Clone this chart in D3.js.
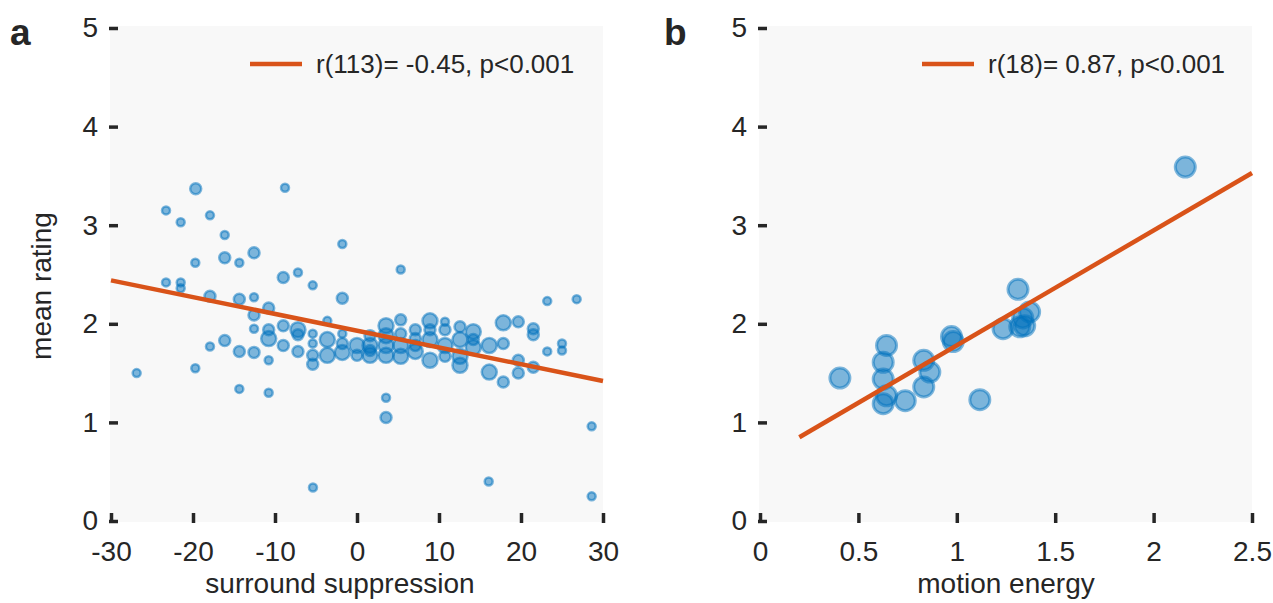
<!DOCTYPE html>
<html>
<head>
<meta charset="utf-8">
<script src="https://cdn.jsdelivr.net/npm/d3@7"></script>
<style>
  body { margin: 0; background: #fff; }
  text { font-family: "Liberation Sans", Arial, Helvetica, sans-serif; fill: #262626; }
</style>
</head>
<body>
<div id="chart"></div>
<script>
// ---- panel a: surround suppression vs mean rating (size = weight class 1..3)
const ssX = [-19.67, -23.29, -17.93, -21.5, -16.13, -12.56, -16.13, -19.72, -14.35, -23.29,
  -21.5, -21.5, -17.93, -14.35, -12.56, -10.77, -12.56, -12.56, -10.77, -10.77,
  -16.13, -17.93, -14.35, -12.56, -10.77, -26.87, -19.72, -14.35, -10.77, -8.78,
  -8.99, -7.2, -5.4, -1.79, 5.33, -1.79, -8.99, -7.2, -7.2, -5.4,
  -3.62, -8.99, -7.2, -5.4, -5.4, -5.4, -3.62, -3.62, -1.79, -1.79,
  0, 1.59, 1.59, 3.54, 3.54, 3.54, 5.33, 5.33, 5.33, 7.11,
  7.11, 8.9, 8.9, 8.9, 10.73, 10.73, 3.54, 3.54, 23.2, 26.79,
  12.56, 12.56, 14.18, 14.18, 17.84, 19.67, 21.5, 21.5, 16.13, 17.84,
  23.2, 25, 25, 12.56, 12.56, 10.73, 16.13, 17.84, 19.67, 19.67,
  21.5, 28.62, 16.06, 28.62, -5.37, 0, 1.59, 7.11, 5.33, 14.18,
  -1.79, 8.9, 3.54, 10.73, 1.59, 7.11];
const ssY = [3.37, 3.15, 3.10, 3.03, 2.90, 2.72, 2.67, 2.62, 2.62, 2.42,
  2.42, 2.36, 2.28, 2.25, 2.27, 2.16, 2.09, 1.95, 1.94, 1.85,
  1.83, 1.77, 1.72, 1.71, 1.63, 1.50, 1.55, 1.34, 1.30, 3.38,
  2.47, 2.52, 2.39, 2.81, 2.55, 2.26, 1.98, 1.94, 1.89, 1.90,
  2.03, 1.78, 1.72, 1.80, 1.68, 1.59, 1.84, 1.68, 1.80, 1.71,
  1.78, 1.78, 1.68, 1.98, 1.78, 1.68, 2.04, 1.78, 1.67, 1.85,
  1.72, 2.03, 1.84, 1.63, 1.94, 1.78, 1.25, 1.05, 2.23, 2.25,
  1.97, 1.84, 1.92, 1.76, 2.01, 2.02, 1.95, 1.89, 1.78, 1.80,
  1.72, 1.80, 1.73, 1.67, 1.58, 1.67, 1.51, 1.41, 1.63, 1.50,
  1.56, 0.96, 0.40, 0.25, 0.34, 1.68, 1.88, 1.94, 1.90, 1.84,
  1.90, 1.94, 1.88, 2.02, 1.73, 1.78];
const ssSize = [2, 1, 1, 1, 1, 2, 2, 1, 1, 1,
  1, 1, 2, 2, 1, 2, 2, 1, 2, 3,
  2, 1, 2, 2, 1, 1, 1, 1, 1, 1,
  2, 1, 1, 1, 1, 2, 2, 3, 2, 1,
  1, 2, 2, 1, 2, 2, 3, 3, 2, 3,
  3, 3, 3, 3, 3, 3, 2, 3, 3, 2,
  3, 3, 3, 3, 2, 3, 1, 2, 1, 1,
  2, 3, 3, 3, 3, 2, 2, 2, 3, 2,
  1, 1, 1, 3, 3, 2, 3, 2, 2, 2,
  2, 1, 1, 1, 1, 2, 2, 2, 2, 2,
  1, 2, 3, 1, 2, 2];
const fitASlope = -0.017, fitAIntercept = 1.93;

// ---- panel b: motion energy vs mean rating
const meX = [2.161, 1.311, 1.335, 1.37, 1.32, 1.345, 1.235, 0.973, 0.982, 0.643,
  0.626, 0.832, 0.863, 0.406, 0.626, 0.832, 0.643, 0.626, 0.738, 1.117];
const meY = [3.59, 2.35, 2.06, 2.12, 1.97, 1.98, 1.95, 1.87, 1.82, 1.78,
  1.61, 1.63, 1.51, 1.45, 1.44, 1.36, 1.27, 1.19, 1.22, 1.23];
const fitBSlope = 1.165, fitBIntercept = 0.617, fitBStart = 0.2;

// ---- ticks / labels
const yTicks = [0, 1, 2, 3, 4, 5];
const xTicksA = [-30, -20, -10, 0, 10, 20, 30];
const xTicksB = [0, 0.5, 1, 1.5, 2, 2.5];
const legendA = "r(113)= -0.45, p<0.001";
const legendB = "r(18)= 0.87, p<0.001";

const blue = "#0072BD";
const orange = "#D95319";

const svg = d3.select("#chart")
  .append("svg")
  .attr("width", 1273)
  .attr("height", 603);

function drawPanel(cfg) {
  const x = d3.scaleLinear().domain(cfg.xDomain).range(cfg.xRange);
  const y = d3.scaleLinear().domain([0, 5]).range([521, 28]);
  const g = svg.append("g");

  // light axes background
  g.append("rect")
    .attr("x", x(cfg.xDomain[0]) - 1)
    .attr("y", y(5) - 2)
    .attr("width", x(cfg.xDomain[1]) - x(cfg.xDomain[0]) + 1)
    .attr("height", y(0) - y(5) + 3)
    .attr("fill", "#f8f8f8");

  // inward ticks, no axis line; plain hyphen minus like the original
  const fmt = d => String(d);
  const yAxis = g.append("g")
    .attr("transform", `translate(${x(cfg.xDomain[0]) - 2},0)`)
    .call(d3.axisLeft(y).tickValues(yTicks).tickFormat(fmt).tickSize(-9).tickPadding(11));
  const xAxis = g.append("g")
    .attr("transform", `translate(0,${y(0) + 2})`)
    .call(d3.axisBottom(x).tickValues(cfg.xTicks).tickFormat(fmt).tickSize(-10).tickPadding(18));
  [yAxis, xAxis].forEach(ax => {
    ax.select(".domain").remove();
    ax.selectAll(".tick line").attr("stroke", "#262626").attr("stroke-width", 3.5);
    ax.selectAll(".tick text").attr("font-size", "28px").attr("fill", "#262626");
  });

  // scatter
  g.append("g").selectAll("circle")
    .data(cfg.points)
    .join("circle")
    .attr("cx", d => x(d.x))
    .attr("cy", d => y(d.y))
    .attr("r", d => d.r)
    .attr("fill", blue)
    .attr("fill-opacity", 0.5)
    .attr("stroke", blue)
    .attr("stroke-opacity", 0.5)
    .attr("stroke-width", d => d.sw);

  // fit line
  g.append("line")
    .attr("x1", x(cfg.fitStart))
    .attr("y1", y(cfg.fitIntercept + cfg.fitSlope * cfg.fitStart))
    .attr("x2", x(cfg.xDomain[1]))
    .attr("y2", y(cfg.fitIntercept + cfg.fitSlope * cfg.xDomain[1]))
    .attr("stroke", orange)
    .attr("stroke-width", 4.5);

  // legend
  g.append("line")
    .attr("x1", cfg.legendX).attr("x2", cfg.legendX + 52)
    .attr("y1", 64).attr("y2", 64)
    .attr("stroke", orange).attr("stroke-width", 4.5);
  g.append("text")
    .attr("x", cfg.legendX + 66).attr("y", 73)
    .attr("font-size", "26px")
    .text(cfg.legend);

  // axis labels
  g.append("text")
    .attr("x", cfg.xLabelX).attr("y", 593)
    .attr("text-anchor", "middle")
    .attr("font-size", "28px")
    .text(cfg.xLabel);
  if (cfg.yLabel) {
    g.append("text")
      .attr("transform", `translate(${cfg.yLabelX},${cfg.yLabelY}) rotate(-90)`)
      .attr("text-anchor", "middle")
      .attr("font-size", "28px")
      .text(cfg.yLabel);
  }

  // panel letter
  g.append("text")
    .attr("x", cfg.letterX).attr("y", 45)
    .attr("font-size", "37px")
    .attr("font-weight", "bold")
    .attr("fill", "#000")
    .text(cfg.letter);
}

const sizeR = { 1: 4, 2: 5.5, 3: 7.5 };

drawPanel({
  xDomain: [-30, 30], xRange: [111, 603], xTicks: xTicksA,
  points: ssX.map((v, i) => ({ x: v, y: ssY[i], r: sizeR[ssSize[i]], sw: 2.5 })),
  fitSlope: fitASlope, fitIntercept: fitAIntercept, fitStart: -30,
  legendX: 250, legend: legendA,
  xLabel: "surround suppression", xLabelX: 340,
  yLabel: "mean rating", yLabelX: 51, yLabelY: 286,
  letter: "a", letterX: 10
});

drawPanel({
  xDomain: [0, 2.5], xRange: [760, 1252], xTicks: xTicksB,
  points: meX.map((v, i) => ({ x: v, y: meY[i], r: 10, sw: 3 })),
  fitSlope: fitBSlope, fitIntercept: fitBIntercept, fitStart: fitBStart,
  legendX: 922, legend: legendB,
  xLabel: "motion energy", xLabelX: 1006,
  letter: "b", letterX: 664
});
</script>
</body>
</html>
